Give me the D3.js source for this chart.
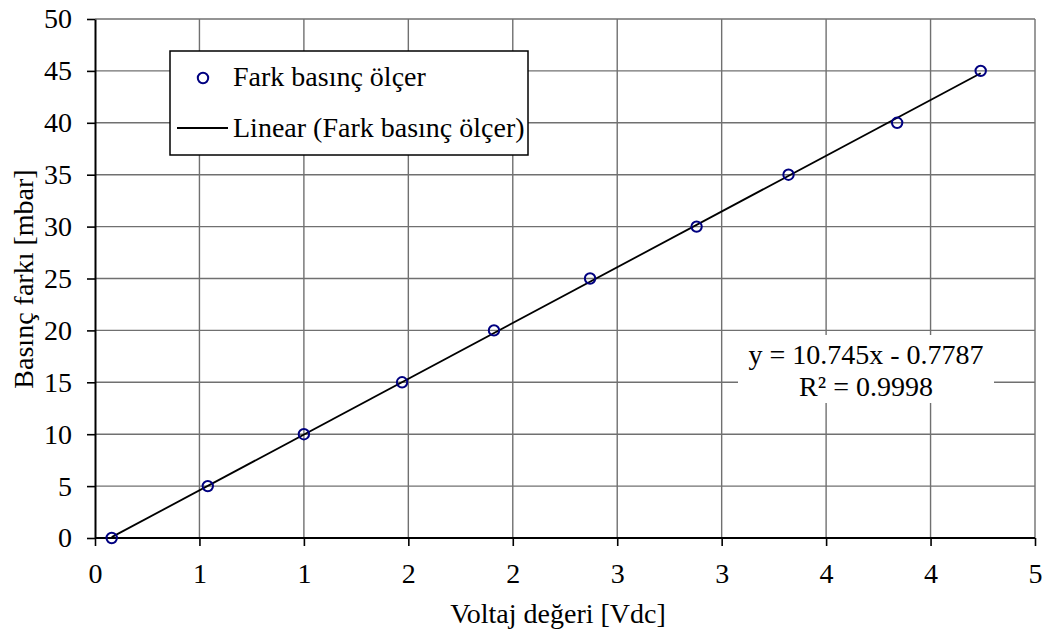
<!DOCTYPE html>
<html>
<head>
<meta charset="utf-8">
<script src="https://cdn.jsdelivr.net/npm/d3@7"></script>
<style>
  html, body { margin: 0; padding: 0; background: #fff; }
  svg { display: block; }
  text { font-family: "Liberation Serif", "Times New Roman", serif; fill: #000; }
</style>
</head>
<body>
<svg id="chart" width="1045" height="630"></svg>
<script>
// Measured calibration points: sensor output voltage vs. pressure difference
const voltage = [0.08, 0.54, 1.00, 1.47, 1.91, 2.37, 2.88, 3.32, 3.84, 4.24];
const pressure = [0, 5, 10, 15, 20, 25, 30, 35, 40, 45];

// Linear trendline coefficients and fit quality
const slope = 10.745;
const intercept = -0.7787;
const rSquared = 0.9998;

// Axis ticks (x labels use whole-number formatting)
const xTickValues = [0, 0.5, 1, 1.5, 2, 2.5, 3, 3.5, 4, 4.5];
const xTickLabels = ["0", "1", "1", "2", "2", "3", "3", "4", "4", "5"];
const yTickValues = [0, 5, 10, 15, 20, 25, 30, 35, 40, 45, 50];

const seriesName = "Fark basınç ölçer";
const trendName = "Linear (Fark basınç ölçer)";
const xTitle = "Voltaj değeri [Vdc]";
const yTitle = "Basınç farkı [mbar]";

const svg = d3.select("#chart");
const plot = { left: 95, right: 1035, top: 19, bottom: 538 };
const fontSize = 28;
const serif = "Liberation Serif, Times New Roman, serif";

const x = d3.scaleLinear().domain([0, 4.5]).range([plot.left, plot.right]);
const y = d3.scaleLinear().domain([0, 50]).range([plot.bottom, plot.top]);

// Gridlines
const grid = svg.append("g").attr("stroke", "#707070").attr("stroke-width", 1.4);
grid.selectAll("line.v").data(xTickValues.slice(1))
  .join("line").attr("class", "v")
  .attr("x1", d => x(d)).attr("x2", d => x(d))
  .attr("y1", plot.top).attr("y2", plot.bottom);
grid.selectAll("line.h").data(yTickValues.slice(1))
  .join("line").attr("class", "h")
  .attr("x1", plot.left).attr("x2", plot.right)
  .attr("y1", d => y(d)).attr("y2", d => y(d));

// Axes
const xAxis = d3.axisBottom(x).tickValues(xTickValues)
  .tickFormat((d, i) => xTickLabels[i]).tickSizeInner(8).tickSizeOuter(0).tickPadding(17);
const yAxis = d3.axisLeft(y).tickValues(yTickValues)
  .tickFormat(d3.format("d")).tickSizeInner(8).tickSizeOuter(0).tickPadding(15);

const gx = svg.append("g").attr("transform", `translate(0,${plot.bottom})`).call(xAxis);
const gy = svg.append("g").attr("transform", `translate(${plot.left},0)`).call(yAxis);
[gx, gy].forEach(g => {
  g.attr("font-family", serif);
  g.select(".domain").attr("stroke", "#000").attr("stroke-width", 2);
  g.selectAll(".tick line").attr("stroke", "#000").attr("stroke-width", 1.6);
  g.selectAll(".tick text")
    .attr("font-family", serif)
    .attr("font-size", fontSize).attr("fill", "#000");
});
gx.select(".domain").attr("d", `M${plot.left},0H${plot.right}`);

// Trendline over the measured range
const xMin = d3.min(voltage), xMax = d3.max(voltage);
svg.append("line")
  .attr("x1", x(xMin)).attr("y1", y(slope * xMin + intercept))
  .attr("x2", x(xMax)).attr("y2", y(slope * xMax + intercept))
  .attr("stroke", "#000").attr("stroke-width", 1.8);

// Data markers
svg.append("g").selectAll("circle")
  .data(voltage.map((v, i) => [v, pressure[i]]))
  .join("circle")
  .attr("cx", d => x(d[0])).attr("cy", d => y(d[1])).attr("r", 5.2)
  .attr("fill", "none").attr("stroke", "#000080").attr("stroke-width", 2);

// Trendline equation label
const eq = svg.append("g").attr("font-family", serif).attr("font-size", fontSize);
eq.append("rect").attr("x", 738).attr("y", 335).attr("width", 256).attr("height", 68)
  .attr("fill", "#fff");
eq.append("text").attr("x", 866).attr("y", 364).attr("text-anchor", "middle")
  .text(`y = ${slope}x - ${Math.abs(intercept)}`);
eq.append("text").attr("x", 866).attr("y", 396).attr("text-anchor", "middle")
  .text(`R² = ${rSquared}`);

// Legend
const lg = svg.append("g").attr("font-family", serif).attr("font-size", fontSize);
lg.append("rect").attr("x", 170).attr("y", 51).attr("width", 358).attr("height", 104)
  .attr("fill", "#fff").attr("stroke", "#000").attr("stroke-width", 1.5);
lg.append("circle").attr("cx", 203).attr("cy", 78).attr("r", 5.2)
  .attr("fill", "none").attr("stroke", "#000080").attr("stroke-width", 2);
lg.append("text").attr("x", 233).attr("y", 86).text(seriesName);
lg.append("line").attr("x1", 177).attr("x2", 228).attr("y1", 128).attr("y2", 128)
  .attr("stroke", "#000").attr("stroke-width", 1.8);
lg.append("text").attr("x", 233).attr("y", 137).text(trendName);

// Axis titles
svg.append("text").attr("x", 558).attr("y", 623).attr("text-anchor", "middle")
  .attr("font-family", serif).attr("font-size", fontSize).text(xTitle);
svg.append("text").attr("transform", "translate(33,279) rotate(-90)")
  .attr("text-anchor", "middle").attr("font-family", serif)
  .attr("font-size", fontSize).text(yTitle);
</script>
</body>
</html>
